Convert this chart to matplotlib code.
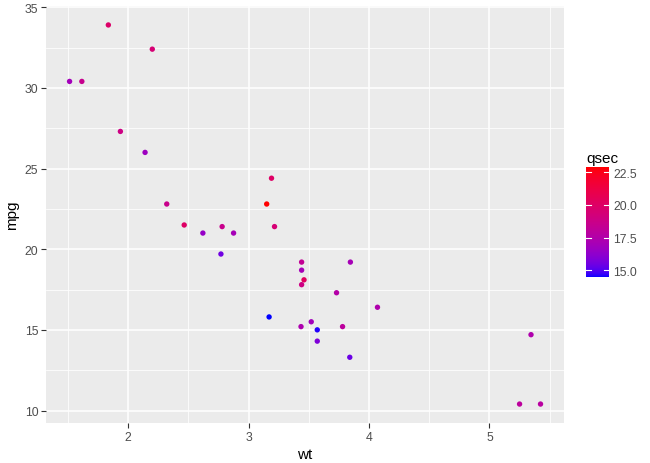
import numpy as np
import matplotlib
matplotlib.use("Agg")
import matplotlib.pyplot as plt
from matplotlib.colors import ListedColormap, Normalize
from matplotlib.ticker import MultipleLocator

plt.rcParams['font.family'] = ['Liberation Sans', 'DejaVu Sans']

# mtcars: weight, mpg, quarter mile time
wt = [2.620, 2.875, 2.320, 3.215, 3.440, 3.460, 3.570, 3.190, 3.150, 3.440, 3.440,
      4.070, 3.730, 3.780, 5.250, 5.424, 5.345, 2.200, 1.615, 1.835, 2.465, 3.520,
      3.435, 3.840, 3.845, 1.935, 2.140, 1.513, 3.170, 2.770, 3.570, 2.780]
mpg = [21.0, 21.0, 22.8, 21.4, 18.7, 18.1, 14.3, 24.4, 22.8, 19.2, 17.8,
       16.4, 17.3, 15.2, 10.4, 10.4, 14.7, 32.4, 30.4, 33.9, 21.5, 15.5,
       15.2, 13.3, 19.2, 27.3, 26.0, 30.4, 15.8, 19.7, 15.0, 21.4]
qsec = [16.46, 17.02, 18.61, 19.44, 17.02, 20.22, 15.84, 20.00, 22.90, 18.30, 18.90,
        17.40, 17.60, 18.00, 17.98, 17.82, 17.42, 19.47, 18.52, 19.90, 20.01, 16.87,
        17.30, 15.41, 17.05, 18.90, 16.70, 16.90, 14.50, 15.50, 14.60, 18.60]
cb_ticks = [15.0, 17.5, 20.0, 22.5]


# blue -> red gradient interpolated in CIELAB, like scale_colour_gradient
def srgb_to_lab(c):
    c = np.asarray(c, float)
    lin = np.where(c <= 0.04045, c / 12.92, ((c + 0.055) / 1.055) ** 2.4)
    m = np.array([[0.4124, 0.3576, 0.1805],
                  [0.2126, 0.7152, 0.0722],
                  [0.0193, 0.1192, 0.9505]])
    xyz = m @ lin / np.array([0.95047, 1.0, 1.08883])
    f = np.where(xyz > 0.008856, np.cbrt(xyz), 7.787 * xyz + 16 / 116)
    return np.array([116 * f[1] - 16, 500 * (f[0] - f[1]), 200 * (f[1] - f[2])])


def lab_to_srgb(lab):
    L, a, b = lab
    fy = (L + 16) / 116
    fx = fy + a / 500
    fz = fy - b / 200
    f = np.array([fx, fy, fz])
    xyz = np.where(f ** 3 > 0.008856, f ** 3, (f - 16 / 116) / 7.787)
    xyz = xyz * np.array([0.95047, 1.0, 1.08883])
    minv = np.array([[3.2406, -1.5372, -0.4986],
                     [-0.9689, 1.8758, 0.0415],
                     [0.0557, -0.2040, 1.0570]])
    lin = np.clip(minv @ xyz, 0, 1)
    c = np.where(lin <= 0.0031308, 12.92 * lin, 1.055 * lin ** (1 / 2.4) - 0.055)
    return np.clip(c, 0, 1)


lo = srgb_to_lab([0, 0, 1])
hi = srgb_to_lab([1, 0, 0])
cols = [lab_to_srgb(lo + (hi - lo) * t) for t in np.linspace(0, 1, 256)]
cmap = ListedColormap(cols)
norm = Normalize(vmin=min(qsec), vmax=max(qsec))

fig = plt.figure(figsize=(6.5, 4.64), dpi=100)
ax = fig.add_axes([0.0708, 0.0862, 0.797, 0.8987])
ax.set_facecolor("#EBEBEB")

ax.scatter(wt, mpg, c=qsec, cmap=cmap, norm=norm, s=15, linewidths=0, zorder=3)

xr = max(wt) - min(wt)
yr = max(mpg) - min(mpg)
ax.set_xlim(min(wt) - 0.05 * xr, max(wt) + 0.05 * xr)
ax.set_ylim(min(mpg) - 0.05 * yr, max(mpg) + 0.05 * yr)
ax.xaxis.set_major_locator(MultipleLocator(1))
ax.xaxis.set_minor_locator(MultipleLocator(0.5))
ax.yaxis.set_major_locator(MultipleLocator(5))
ax.yaxis.set_minor_locator(MultipleLocator(2.5))
ax.grid(which="major", color="white", lw=1.1, zorder=1)
ax.grid(which="minor", color="white", lw=0.55, zorder=1)
for s in ax.spines.values():
    s.set_visible(False)
ax.tick_params(which="major", length=3.5, width=0.8, color="#333333",
               labelcolor="#4D4D4D", labelsize=8.8, pad=2)
ax.tick_params(which="minor", length=0)
ax.set_xlabel("wt", fontsize=11, color="black", labelpad=3)
ax.set_ylabel("mpg", fontsize=11, color="black", labelpad=4)

# colour bar legend
cax = fig.add_axes([0.9015, 0.4009, 0.0354, 0.237])
cb = fig.colorbar(plt.cm.ScalarMappable(norm=norm, cmap=cmap), cax=cax)
cb.outline.set_visible(False)
cb.set_ticks(cb_ticks)
cb.set_ticklabels(["%.1f" % v for v in cb_ticks])
cax.tick_params(length=0, labelsize=8.8, labelcolor="#4D4D4D", pad=3)
for v in cb_ticks:
    cax.plot([0, 0.2], [v, v], color="white", lw=0.8, transform=cax.get_yaxis_transform())
    cax.plot([0.8, 1.0], [v, v], color="white", lw=0.8, transform=cax.get_yaxis_transform())
fig.text(0.9015, 0.643, "qsec", fontsize=11, ha="left", va="bottom")

fig.savefig("out.png", dpi=100)
